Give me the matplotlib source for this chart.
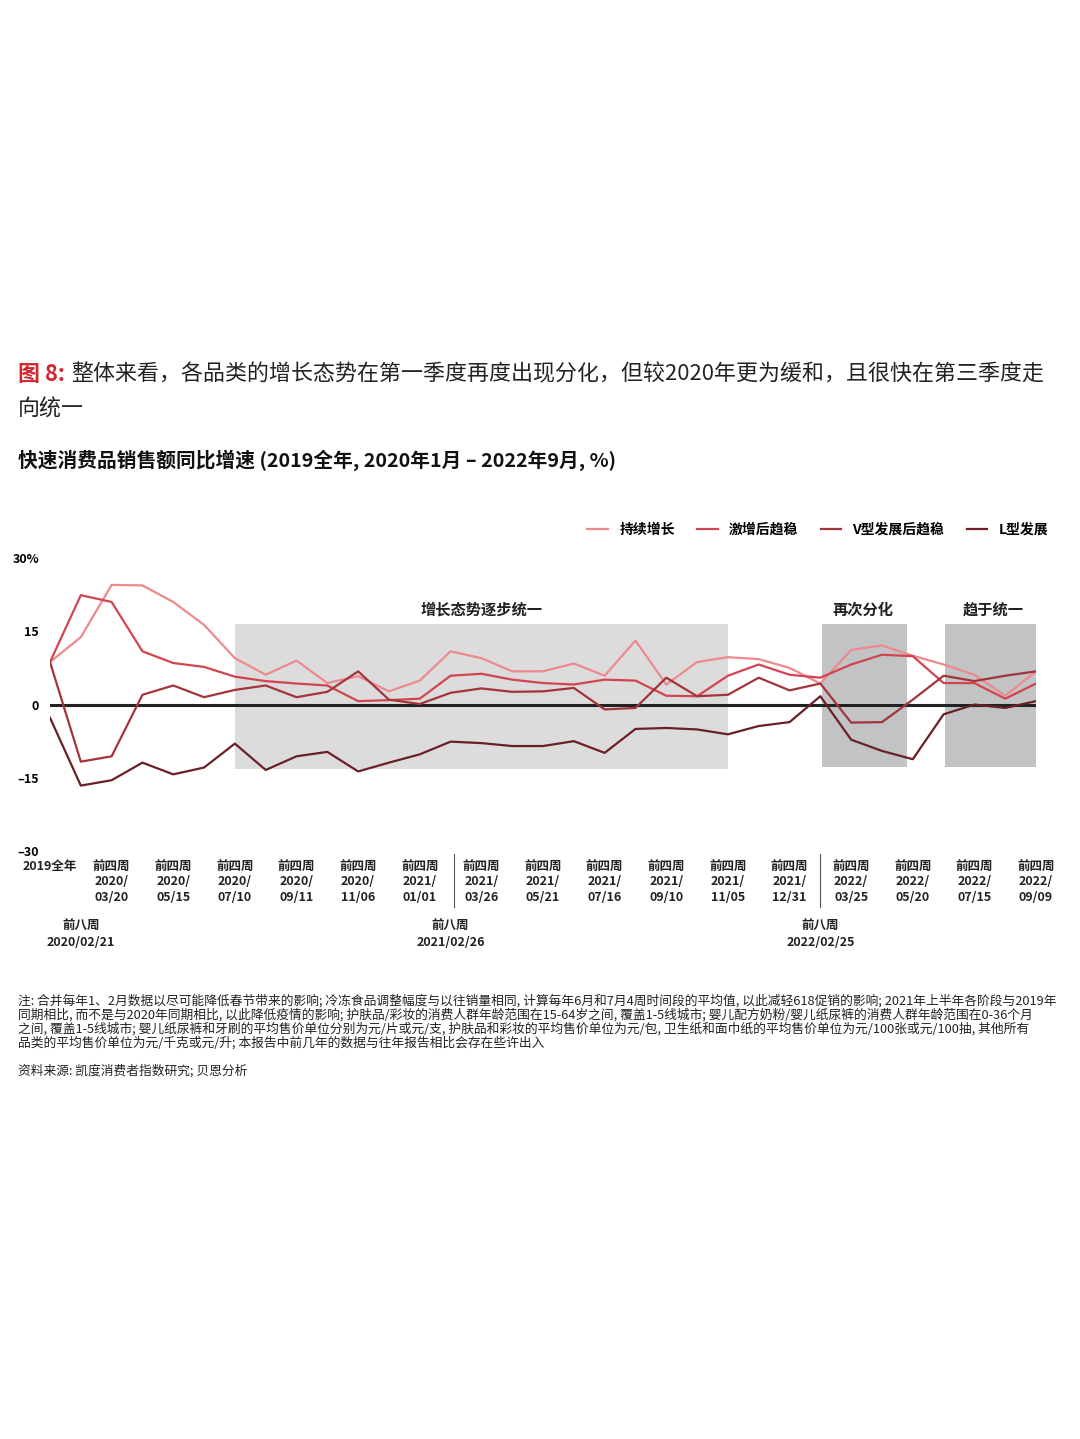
import matplotlib
matplotlib.use("Agg")
import matplotlib.pyplot as plt
import matplotlib.transforms as mtrans
import numpy as np

plt.rcParams['font.family'] = ['Noto Sans CJK SC', 'DejaVu Sans']

series_names = ["持续增长", "激增后趋稳", "V型发展后趋稳", "L型发展"]
colors = ["#EC8A8F", "#D2444F", "#A4343C", "#6A2026"]

s1 = [8.7, 13.8, 24.5, 24.4, 21.0, 16.3, 9.5, 6.1, 9.0, 4.4, 5.8, 2.7, 4.9, 10.9, 9.5, 6.8,
      6.8, 8.4, 5.9, 13.1, 4.1, 8.7, 9.7, 9.3, 7.5, 4.3, 11.2, 12.1, 10.0, 8.2, 6.1, 1.8, 6.8]
s2 = [8.7, 22.4, 21.0, 10.9, 8.5, 7.7, 5.7, 4.8, 4.3, 3.9, 0.7, 0.9, 1.2, 5.9, 6.3, 5.1,
      4.4, 4.1, 5.1, 4.9, 1.8, 1.7, 5.9, 8.2, 6.1, 5.5, 8.2, 10.2, 9.9, 4.4, 4.4, 1.2, 4.3]
s3 = [8.7, -11.7, -10.6, 2.0, 3.9, 1.5, 3.0, 3.9, 1.5, 2.6, 6.8, 1.0, 0.1, 2.4, 3.3, 2.6,
      2.7, 3.4, -1.0, -0.7, 5.5, 1.7, 2.0, 5.5, 2.9, 4.3, -3.7, -3.6, 1.0, 5.9, 4.8, 5.9, 6.8]
s4 = [-2.7, -16.6, -15.5, -11.9, -14.3, -12.9, -8.0, -13.4, -10.6, -9.7, -13.7, -11.9, -10.2, -7.6, -7.9, -8.5,
      -8.5, -7.5, -9.9, -5.0, -4.8, -5.1, -6.1, -4.4, -3.6, 1.7, -7.2, -9.5, -11.2, -2.0, 0.0, -0.7, 0.7]
series = [s1, s2, s3, s4]

tick_pos = [0] + list(range(2, 33, 2))
tick_labels = ["2019全年",
               "前四周\n2020/\n03/20", "前四周\n2020/\n05/15", "前四周\n2020/\n07/10", "前四周\n2020/\n09/11",
               "前四周\n2020/\n11/06", "前四周\n2021/\n01/01", "前四周\n2021/\n03/26", "前四周\n2021/\n05/21",
               "前四周\n2021/\n07/16", "前四周\n2021/\n09/10", "前四周\n2021/\n11/05", "前四周\n2021/\n12/31",
               "前四周\n2022/\n03/25", "前四周\n2022/\n05/20", "前四周\n2022/\n07/15", "前四周\n2022/\n09/09"]
low_pos = [1, 13, 25]
low_labels = ["前八周\n2020/02/21", "前八周\n2021/02/26", "前八周\n2022/02/25"]
yticks = [30, 15, 0, -15, -30]
ytick_labels = ["30%", "15", "0", "–15", "–30"]

fig = plt.figure(figsize=(10.8, 14.39), dpi=100)
ax = fig.add_axes([0.0463, 0.4086, 0.913, 0.2036])
x = np.arange(len(s1))

ax.axvspan(6, 22, ymin=(-13.3 + 30) / 60, ymax=(16.5 + 30) / 60, color="#DCDCDC", zorder=0, lw=0)
ax.axvspan(25.05, 27.8, ymin=(-12.8 + 30) / 60, ymax=(16.4 + 30) / 60, color="#C2C3C5", zorder=0, lw=0)
ax.axvspan(29.05, 32.1, ymin=(-12.8 + 30) / 60, ymax=(16.4 + 30) / 60, color="#C2C3C5", zorder=0, lw=0)
ax.text(14, 19.5, "增长态势逐步统一", ha="center", va="center", fontsize=11, fontweight="bold", color="#222")
ax.text(26.4, 19.5, "再次分化", ha="center", va="center", fontsize=11, fontweight="bold", color="#222")
ax.text(30.6, 19.5, "趋于统一", ha="center", va="center", fontsize=11, fontweight="bold", color="#222")

ax.axhline(0, xmin=-0.002, xmax=1.004, color="#222", lw=2.2, zorder=2)
for s, c, n in zip(series, colors, series_names):
    ax.plot(x, s, color=c, lw=1.6, label=n, zorder=3)

ax.set_xlim(0, 32)
ax.set_ylim(-30, 30)
for sp in ax.spines.values():
    sp.set_visible(False)
ax.set_xticks([])
ax.set_yticks(yticks)
ax.set_yticklabels(ytick_labels, fontsize=9, fontweight="bold")
ax.tick_params(axis="y", length=0, pad=8)

tr = mtrans.blended_transform_factory(ax.transData, ax.transAxes)
for p, l in zip(tick_pos, tick_labels):
    ax.text(p, -0.03, l, transform=tr, ha="center", va="top", fontsize=9, fontweight="bold",
            color="#222", linespacing=1.25, clip_on=False)
for p, l in zip(low_pos, low_labels):
    ax.text(p, -0.23, l, transform=tr, ha="center", va="top", fontsize=9, fontweight="bold",
            color="#222", linespacing=1.45, clip_on=False)
for p in [13.1, 25]:
    ax.plot([p, p], [-0.01, -0.19], transform=tr, color="#555", lw=0.8, clip_on=False)

ax.legend(loc="lower right", bbox_to_anchor=(1.025, 1.03), ncol=4, frameon=False,
          handlelength=1.5, columnspacing=1.6, prop={"size": 10, "weight": "bold"})

fig.text(0.017, 0.740, "图 8:", fontsize=15.8, color="#D22630", fontweight="bold", va="center")
fig.text(0.066, 0.740, "整体来看，各品类的增长态势在第一季度再度出现分化，但较2020年更为缓和，且很快在第三季度走",
         fontsize=15.8, color="#222", va="center")
fig.text(0.017, 0.715, "向统一", fontsize=15.8, color="#222", va="center")
fig.text(0.017, 0.680, "快速消费品销售额同比增速 (2019全年, 2020年1月 – 2022年9月, %)", fontsize=14.2,
         fontweight="bold", color="#111", va="center")

notes = ("注: 合并每年1、2月数据以尽可能降低春节带来的影响; 冷冻食品调整幅度与以往销量相同, 计算每年6月和7月4周时间段的平均值, 以此减轻618促销的影响; 2021年上半年各阶段与2019年\n"
         "同期相比, 而不是与2020年同期相比, 以此降低疫情的影响; 护肤品/彩妆的消费人群年龄范围在15-64岁之间, 覆盖1-5线城市; 婴儿配方奶粉/婴儿纸尿裤的消费人群年龄范围在0-36个月\n"
         "之间, 覆盖1-5线城市; 婴儿纸尿裤和牙刷的平均售价单位分别为元/片或元/支, 护肤品和彩妆的平均售价单位为元/包, 卫生纸和面巾纸的平均售价单位为元/100张或元/100抽, 其他所有\n"
         "品类的平均售价单位为元/千克或元/升; 本报告中前几年的数据与往年报告相比会存在些许出入")
fig.text(0.017, 0.309, notes, fontsize=9.2, color="#222", va="top", linespacing=1.05)
fig.text(0.017, 0.256, "资料来源: 凯度消费者指数研究; 贝恩分析", fontsize=9.2, color="#222", va="center")

fig.savefig("out.png", dpi=100, facecolor="white")
